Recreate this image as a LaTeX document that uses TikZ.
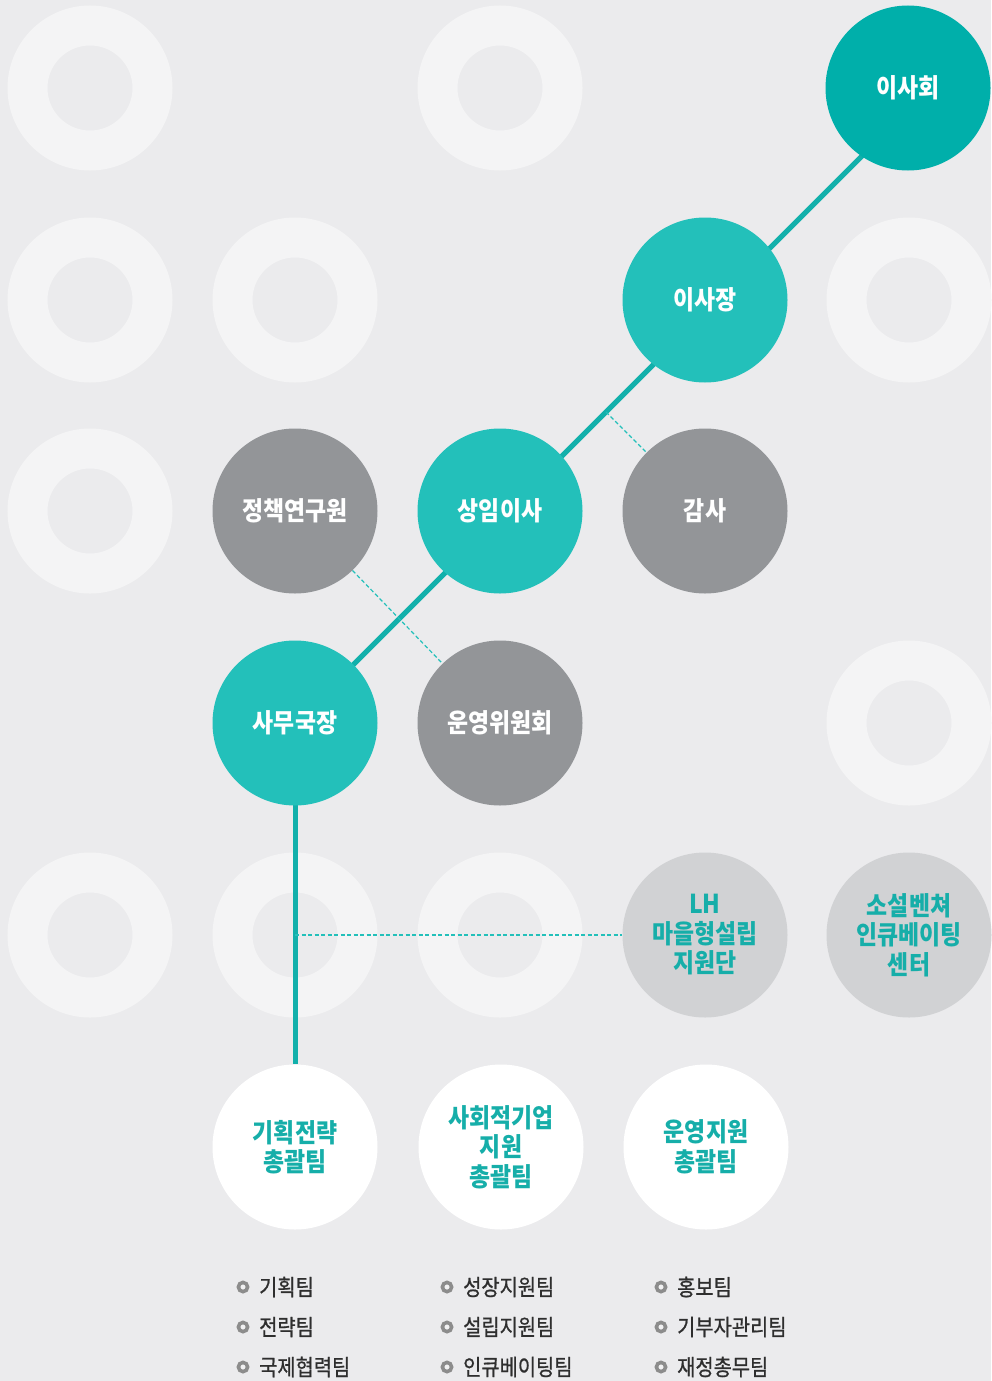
\documentclass[tikz,border=0pt]{standalone}
\usepackage{fontspec}
\usepackage{xcolor}
\usepackage{tikz}
\usetikzlibrary{calc}

\newfontfamily\kr[FakeStretch=0.88]{Noto Sans CJK KR}
\newfontfamily\krmed[FakeStretch=0.88,FakeBold=0.8]{Noto Sans CJK KR}

\definecolor{bgcol}{HTML}{EBEBED}
\definecolor{ringcol}{HTML}{F4F4F5}
\definecolor{boardcol}{HTML}{00AFAA}
\definecolor{tealcol}{HTML}{23C0BA}
\definecolor{linecol}{HTML}{12B0AB}
\definecolor{greycol}{HTML}{939598}
\definecolor{lightcol}{HTML}{D1D2D4}
\definecolor{tealtext}{HTML}{16AEA9}
\definecolor{teamtext}{HTML}{2E2E2E}
\definecolor{iconcol}{HTML}{8C8C8C}

\pgfdeclarelayer{back}
\pgfdeclarelayer{mid}
\pgfsetlayers{back,mid,main}

\begin{document}
\begin{tikzpicture}[x=1pt, y=-1pt,
  orgcircle/.style={circle, minimum size=165pt, inner sep=0pt, align=center,
    font=\kr\bfseries\fontsize{26}{29.5}\selectfont},
  headnode/.style={orgcircle, fill=tealcol, text=white},
  sidenode/.style={orgcircle, fill=greycol, text=white},
  centernode/.style={orgcircle, fill=lightcol, text=tealtext},
  teamnode/.style={orgcircle, fill=white, text=tealtext},
  mainline/.style={draw=linecol, line width=5pt},
  dashline/.style={draw=tealcol, line width=1.2pt, dash pattern=on 4pt off 2.5pt}]

  \useasboundingbox (0,0) rectangle (991,1381);

  % Background and rings
  \begin{pgfonlayer}{back}
    \fill[bgcol] (0,0) rectangle (991,1381);
    \foreach \x/\y in {90/88, 500/88, 90/300, 295/300, 909/300, 90/511,
                       909/723, 90/935, 295/935, 500/935}
      \draw[ringcol, line width=40pt] (\x,\y) circle (62.5pt);
  \end{pgfonlayer}

  % Board and executives
  \node[orgcircle, fill=boardcol, text=white] (isahoe) at (908,88) {이사회};
  \node[headnode] (isajang) at (705,300) {이사장};
  \node[headnode] (sangim) at (500,511) {상임이사};
  \node[sidenode] (gamsa) at (705,511) {감사};
  \node[sidenode] (jeongchaek) at (295,511) {정책연구원};
  \node[headnode] (samu) at (295,723) {사무국장};
  \node[sidenode] (unyoung) at (500,723) {운영위원회};

  % Centers
  \node[centernode] (lh) at (705,935) {LH\\마을형설립\\지원단};
  \node[centernode] (venture) at (909,935) {소설벤쳐\\인큐베이팅\\센터};

  % Teams
  \node[teamnode] (gihoek) at (295,1147) {기획전략\\총괄팀};
  \node[teamnode] (sahoe) at (501,1147) {사회적기업\\지원\\총괄팀};
  \node[teamnode] (jiwon) at (706,1147) {운영지원\\총괄팀};

  % Lines
  \begin{pgfonlayer}{mid}
    \coordinate (diagtop) at ($(samu)+(612,-612)$);
    \draw[mainline] (samu.center) -- (diagtop);
    \draw[mainline] (samu.center) -- (gihoek);
    \coordinate (gamsafoot) at ($(samu)!(gamsa)!(diagtop)$);
    \draw[dashline] (gamsafoot) -- (gamsa);
    \draw[dashline] (jeongchaek) -- (unyoung);
    \coordinate (lhfoot) at ($(samu)!(lh)!(gihoek)$);
    \draw[dashline] (lhfoot) -- (lh);
  \end{pgfonlayer}

  % Team lists
  \foreach \x/\y/\t [count=\i] in {243/1287/기획팀, 243/1327/전략팀, 243/1367/국제협력팀,
                                    447/1287/성장지원팀, 447/1327/설립지원팀, 447/1367/인큐베이팅팀,
                                    661/1287/홍보팀, 661/1327/기부자관리팀, 661/1367/재정총무팀} {
    \draw[iconcol, fill=bgcol!70!white, line width=3.6pt] (\x,\y) circle (4.6pt);
    \node[anchor=west, inner sep=0pt, text=teamtext,
          font=\krmed\fontsize{22.5}{26}\selectfont] (team\i) at (\x+16,\y) {\t};
  }
\end{tikzpicture}
\end{document}
